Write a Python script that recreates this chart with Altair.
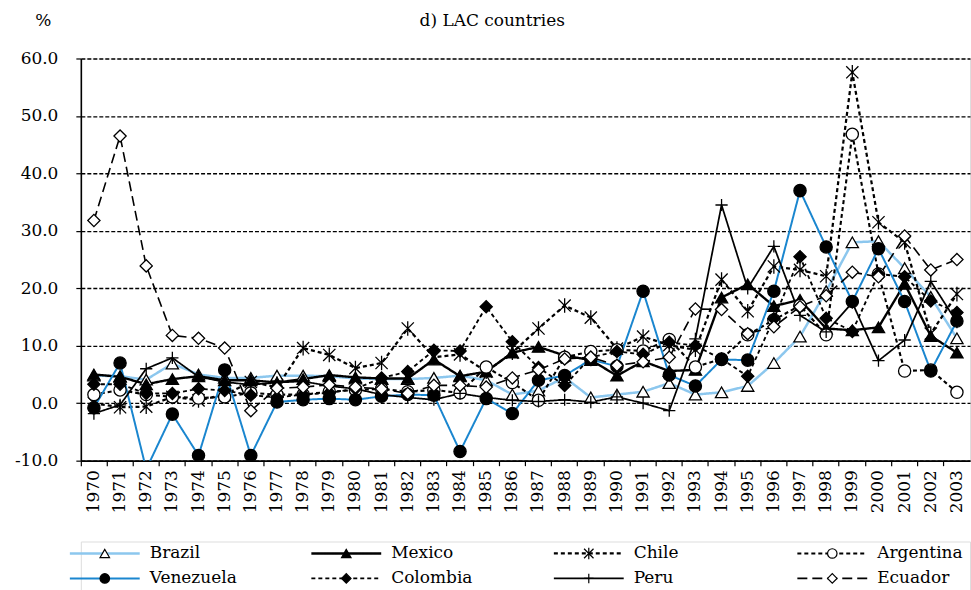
import altair as alt
import pandas as pd

years = list(range(1970, 2004))
countries = ["Brazil", "Mexico", "Chile", "Argentina", "Venezuela", "Colombia", "Peru", "Ecuador"]

brazil = [4.8, 4.7, 4.1, 6.9, 5.0, 4.4, 4.4, 4.8, 4.8, 4.7, 4.3, 4.2, 4.2, 4.4, 4.8, 4.0, 1.5,
          2.2, 4.5, 1.0, 1.5, 2.0, 3.5, 1.5, 1.9, 3.0, 7.0, 11.6, 19.5, 28.0, 28.2, 23.5, 18.5, 11.3]
mexico = [5.0, 4.6, 3.3, 4.2, 4.7, 4.0, 4.0, 3.6, 4.2, 4.9, 4.5, 4.3, 4.3, 7.6, 4.7, 5.5, 8.8,
          9.8, 8.3, 7.5, 4.8, 7.3, 5.6, 5.8, 18.4, 20.7, 16.9, 18.0, 13.0, 12.7, 13.2, 20.8, 11.7, 8.8]
chile = [0.0, -0.7, -0.6, 1.1, 0.5, 1.5, 3.7, 2.8, 9.6, 8.4, 6.1, 7.0, 13.0, 8.0, 8.5, 5.5, 8.8,
         13.0, 17.0, 14.9, 9.5, 11.6, 10.1, 9.3, 21.5, 16.0, 23.8, 23.2, 22.1, 57.6, 31.5, 28.0, 12.1, 19.0]
argentina = [1.5, 2.3, 1.5, 1.1, 0.9, 1.1, 1.8, 1.5, 1.5, 2.0, 2.3, 2.5, 2.0, 2.3, 1.8, 6.3, 3.6,
             0.5, 8.0, 9.0, 9.3, 9.1, 11.1, 6.3, 7.7, 11.9, 14.5, 17.0, 11.9, 46.8, 22.5, 5.6, 5.8, 1.9]
venezuela = [-0.8, 7.0, -11.5, -1.9, -9.1, 5.8, -9.1, 0.2, 0.6, 0.8, 0.6, 1.2, 1.5, 1.4, -8.4, 0.8, -1.8,
             4.0, 4.8, 7.6, 6.4, 19.5, 4.9, 3.0, 7.6, 7.5, 19.5, 37.0, 27.2, 17.7, 26.9, 17.7, 5.6, 14.3]
colombia = [3.3, 3.3, 1.7, 1.7, 2.5, 2.2, 1.4, 1.0, 1.5, 1.8, 2.5, 4.4, 5.5, 9.2, 9.1, 16.8, 10.7,
            6.2, 3.1, 8.0, 9.0, 8.5, 10.6, 10.0, 7.7, 4.7, 14.7, 25.5, 14.8, 12.5, 22.5, 22.0, 17.8, 15.8]
peru = [-1.8, -0.3, 6.0, 7.9, 4.6, 3.7, 3.2, 3.6, 3.8, 3.0, 2.5, 1.5, 1.0, 0.6, 1.7, 1.0, 0.5,
        0.3, 0.6, 0.2, 1.1, 0.0, -1.3, 11.2, 34.5, 20.0, 27.3, 15.3, 12.4, 17.5, 7.4, 11.0, 21.2, 14.1]
ecuador = [31.8, 46.5, 23.9, 11.8, 11.3, 9.6, -1.3, 2.6, 2.8, 3.2, 2.8, 2.5, 1.7, 3.1, 3.1, 2.8, 4.4,
           5.8, 7.7, 8.0, 6.6, 7.2, 8.0, 16.4, 16.3, 12.1, 13.3, 16.8, 18.7, 22.8, 22.0, 29.1, 23.2, 25.0]

series = [brazil, mexico, chile, argentina, venezuela, colombia, peru, ecuador]
legend_col = [0, 1, 2, 3, 0, 1, 2, 3]
legend_row = [0, 0, 0, 0, 1, 1, 1, 1]

rows = []
for c, vals in zip(countries, series):
    for yr, v in zip(years, vals):
        rows.append({"year": yr, "country": c, "value": v})
df = pd.DataFrame(rows)
leg_df = pd.DataFrame({"country": countries, "col": legend_col, "row": legend_row})

FONT = "DejaVu Serif"
FS = 17

line_colors = ["#8cc7ee", "#000000", "#000000", "#000000", "#1a86cf", "#000000", "#000000", "#000000"]
dashes = [[1, 0], [1, 0], [4, 3], [4, 3], [1, 0], [4, 3], [1, 0], [10, 5]]
widths = [2.5, 1.6, 1.4, 1.4, 2.0, 1.4, 1.6, 1.5]
asterisk = "M-1,-1L1,1M-1,1L1,-1M0,-1.2L0,1.2"
plus = "M-1,0L1,0M0,-1L0,1"
shapes = ["triangle-up", "triangle-up", asterisk, "circle", "circle", "diamond", plus, "diamond"]
fills = ["white", "black", "transparent", "white", "black", "black", "transparent", "white"]
sizes = [150, 150, 170, 160, 240, 80, 240, 240]
leg_sizes = [90, 90, 100, 100, 140, 50, 140, 120]

color_enc = alt.Color("country:N", scale=alt.Scale(domain=countries, range=line_colors), legend=None)
dash_enc = alt.StrokeDash("country:N", scale=alt.Scale(domain=countries, range=dashes), legend=None)
width_enc = alt.StrokeWidth("country:N", scale=alt.Scale(domain=countries, range=widths), legend=None)
shape_enc = alt.Shape("country:N", scale=alt.Scale(domain=countries, range=shapes), legend=None)
fill_enc = alt.Fill("country:N", scale=alt.Scale(domain=countries, range=fills), legend=None)

x_enc = alt.X(
    "year:O",
    bandPosition=0.5,
    scale=alt.Scale(type="band", paddingInner=0, paddingOuter=0),
    axis=alt.Axis(
        title=None, bandPosition=0, labelAngle=-90, labelFont=FONT,
        labelFontSize=FS, labelColor="black", tickColor="black", tickSize=5, tickWidth=1.2,
        domainColor="black", domainWidth=1.6, grid=False, labelPadding=4,
    ),
)
y_enc = alt.Y(
    "value:Q",
    scale=alt.Scale(domain=[-10, 60], nice=False, zero=False),
    axis=alt.Axis(
        values=list(range(-10, 61, 10)),
        labelExpr="(datum.value < 0 ? '-' : '') + format(abs(datum.value), '.1f')",
        grid=True, gridDash=[4, 2], gridColor="black", gridWidth=1.3, gridOpacity=1,
        domainColor="black", domainWidth=1.6, tickColor="black", tickSize=5, tickWidth=1.2,
        labelFont=FONT, labelFontSize=FS, labelColor="black", labelPadding=18,
        title="%", titleAngle=0, titleX=-38, titleY=-38, titleAlign="center",
        titleBaseline="middle", titleFont=FONT, titleFontSize=FS, titleFontWeight="normal",
        titleColor="black",
    ),
)

base = alt.Chart(df)
lines = base.mark_line(clip=True).encode(
    x=x_enc, y=y_enc, color=color_enc, strokeDash=dash_enc, strokeWidth=width_enc, detail="country:N"
)
points = base.mark_point(filled=True, stroke="black", strokeWidth=1.3, opacity=1, clip=True).encode(
    x=x_enc, y=y_enc, shape=shape_enc, fill=fill_enc,
    size=alt.Size("country:N", scale=alt.Scale(domain=countries, range=sizes), legend=None),
)
main = alt.layer(lines, points).properties(width=891, height=403)

lx = alt.X("col:Q", scale=alt.Scale(domain=[0, 1, 2, 3], range=[24, 266, 509, 753]), axis=None)
ly = alt.Y("row:Q", scale=alt.Scale(domain=[0, 1], range=[12, 37]), axis=None)
lbase = alt.Chart(leg_df)
lrule = lbase.mark_rule(xOffset=-35, x2Offset=35).encode(
    x=lx, x2=alt.X2("col:Q"), y=ly, color=color_enc, strokeDash=dash_enc, strokeWidth=width_enc
)
lpoint = lbase.mark_point(filled=True, stroke="black", strokeWidth=1.2, opacity=1).encode(
    x=lx, y=ly, shape=shape_enc, fill=fill_enc,
    size=alt.Size("country:N", scale=alt.Scale(domain=countries, range=leg_sizes), legend=None),
)
ltext = lbase.mark_text(align="left", baseline="middle", dx=45, font=FONT, fontSize=FS, color="black").encode(
    x=lx, y=ly, text="country:N"
)
legend = alt.layer(lrule, lpoint, ltext).properties(width=891, height=50)

chart = (
    alt.vconcat(main, legend, spacing=27)
    .resolve_scale(size="independent")
    .properties(
        title=alt.TitleParams("d) LAC countries", anchor="middle", font=FONT, fontSize=FS,
                              fontWeight="normal", color="black", dy=23),
        padding={"left": 13, "top": 10, "right": 0, "bottom": 0},
    )
    .configure_view(strokeWidth=0)
    .configure(font=FONT)
)

chart.save("out.html", embed_options={"renderer": "svg", "actions": False})
